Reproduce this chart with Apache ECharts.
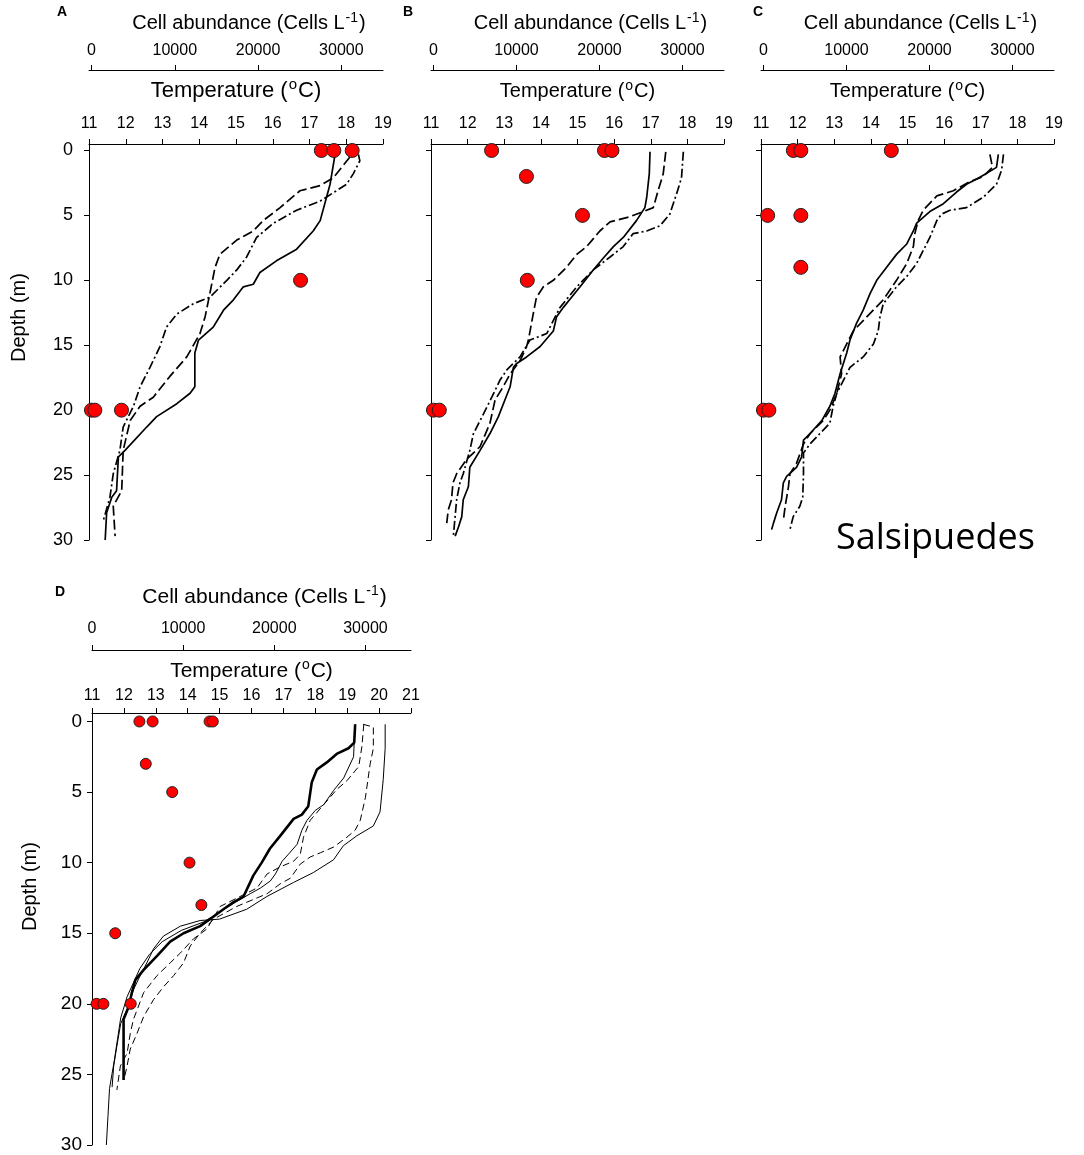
<!DOCTYPE html>
<html>
<head>
<meta charset="utf-8">
<script src="https://cdn.jsdelivr.net/npm/echarts@6/dist/echarts.min.js"></script>
<style>
  html, body { margin: 0; padding: 0; background: #fff; }
  #main { width: 1084px; height: 1155px; }
</style>
</head>
<body>
<div id="main"></div>
<script>
// ---- data: temperature profiles [temp degC, depth m] ----
var A_solid = [[17.69,0.4],[17.56,2.6],[17.29,5.4],[17.1,6.2],[16.65,7.6],[16.1,8.5],[15.65,9.4],[15.47,10.3],[15.2,10.5],[14.93,11.5],[14.66,12.3],[14.38,13.6],[13.98,14.6],[13.88,15.6],[13.88,18.2],[13.75,18.7],[13.39,19.5],[12.84,20.5],[12.57,21.3],[11.98,23.1],[11.8,23.6],[11.75,26.2],[11.62,26.7],[11.48,27.9],[11.44,30]];
var A_dashed = [[18.1,0.5],[17.65,2.1],[17.29,2.7],[16.74,3.1],[16.2,4.4],[15.74,5.4],[15.47,6.2],[15.02,6.9],[14.56,8.0],[14.43,9.0],[14.29,11.0],[14.16,12.8],[14.02,14.1],[13.66,15.9],[13.2,17.4],[12.75,19.0],[12.39,19.7],[12.12,20.8],[11.93,23.1],[11.89,26.2],[11.66,27.4],[11.71,29.7]];
var A_dashdot = [[18.33,0.3],[18.37,0.8],[18.19,1.8],[18.01,2.6],[17.29,3.9],[16.65,4.6],[16.02,5.6],[15.56,6.7],[15.29,8.2],[15.02,9.2],[14.75,10.0],[14.29,11.3],[13.84,11.8],[13.39,12.6],[13.11,13.6],[12.93,15.1],[12.66,16.7],[12.39,18.2],[12.21,19.7],[11.93,21.3],[11.84,23.1],[11.66,24.9],[11.57,26.7],[11.39,28.5]];

var B_solid = [[16.98,0.1],[16.96,1.8],[16.89,3.6],[16.84,4.4],[16.61,5.4],[16.25,6.7],[15.98,7.4],[15.7,8.3],[15.43,9.2],[15.07,10.5],[14.61,12.1],[14.43,12.8],[14.34,13.9],[13.98,15.1],[13.61,15.9],[13.34,16.4],[13.25,16.7],[13.16,18.2],[13.02,19.2],[12.84,20.5],[12.61,21.8],[12.34,23.1],[12.06,24.4],[12.02,25.9],[11.88,26.9],[11.84,28.2],[11.75,29.0],[11.66,29.7]];
var B_dashed = [[17.41,0.1],[17.34,1.8],[17.2,3.1],[17.07,4.4],[16.8,4.7],[16.43,5.1],[15.89,5.5],[15.61,6.2],[15.25,7.4],[14.98,8.0],[14.7,9.0],[14.34,10.0],[14.07,10.5],[13.88,11.3],[13.79,12.6],[13.66,14.6],[13.61,15.1],[13.43,16.2],[13.16,17.2],[12.97,18.2],[12.75,19.2],[12.61,21.0],[12.34,22.8],[11.97,23.8],[11.7,24.9],[11.6,25.6],[11.56,26.9],[11.47,27.7],[11.43,28.7]];
var B_dashdot = [[17.89,0.1],[17.84,2.1],[17.71,3.3],[17.52,4.9],[17.25,5.8],[16.89,6.2],[16.52,6.4],[16.25,7.4],[15.89,8.2],[15.43,9.2],[14.98,10.5],[14.52,12.1],[14.16,14.1],[13.7,14.6],[13.43,15.9],[13.07,16.9],[12.88,17.7],[12.66,19.0],[12.43,20.3],[12.16,21.8],[12.06,23.1],[11.88,24.9],[11.79,25.6],[11.7,26.9],[11.61,29.7]];

var C_solid = [[17.48,0.3],[17.43,1.3],[17.07,1.9],[16.89,2.2],[16.61,2.6],[16.34,3.2],[15.98,4.1],[15.61,4.7],[15.25,5.6],[15.16,6.2],[14.98,7.2],[14.7,8.0],[14.43,9.0],[14.16,10.0],[13.98,11.0],[13.79,12.3],[13.61,13.3],[13.43,14.6],[13.34,15.6],[13.16,17.2],[13.02,18.7],[12.88,19.7],[12.66,20.8],[12.34,21.8],[12.16,22.3],[12.11,23.6],[11.97,24.4],[11.7,25.1],[11.61,25.6],[11.56,26.9],[11.43,27.9],[11.34,28.7],[11.29,29.2]];
var C_dashed = [[17.25,0.3],[17.32,1.3],[17.07,2.0],[16.7,2.4],[16.25,3.1],[15.8,3.5],[15.43,4.6],[15.29,5.4],[15.2,6.4],[15.16,7.4],[14.98,8.7],[14.7,10.0],[14.34,11.5],[13.79,13.1],[13.52,13.9],[13.34,14.9],[13.16,15.9],[13.2,17.2],[13.07,18.7],[12.88,20.0],[12.7,20.8],[12.34,21.8],[12.16,22.6],[11.97,24.1],[11.79,24.9],[11.75,25.9],[11.66,27.4],[11.61,28.5]];
var C_dashdot = [[17.62,0.3],[17.57,1.5],[17.43,2.6],[17.07,3.6],[16.61,4.4],[16.16,4.6],[15.93,4.9],[15.8,5.4],[15.61,6.7],[15.43,7.7],[15.25,8.7],[14.98,9.7],[14.7,10.5],[14.34,11.8],[14.25,12.8],[14.2,13.9],[14.07,14.9],[13.79,15.9],[13.43,16.7],[13.25,17.7],[13.07,18.7],[12.97,19.7],[12.88,21.0],[12.61,21.8],[12.34,22.6],[12.16,23.3],[12.16,24.9],[12.14,26.7],[12.06,27.4],[11.88,28.2],[11.79,29.2]];

var D_thick = [[19.25,0.2],[19.22,1.5],[19.04,1.9],[18.67,2.3],[18.36,2.9],[18.05,3.4],[17.89,4.3],[17.78,6.0],[17.58,6.6],[17.32,6.9],[16.9,8.1],[16.58,9.0],[16.32,10.0],[16.06,10.9],[15.75,12.4],[15.44,12.8],[15.12,13.3],[14.76,13.9],[14.39,14.5],[13.87,15.0],[13.45,15.6],[13.04,16.6],[12.62,17.6],[12.36,18.3],[12.25,19.2],[12.15,20.2],[11.99,21.1],[11.99,22.1],[11.99,25.4]];
var D_thin1 = [[19.25,0.2],[19.22,1.5],[19.2,2.5],[18.89,4.0],[18.57,4.9],[18.26,5.9],[18.0,6.3],[17.74,7.0],[17.58,7.7],[17.43,8.7],[17.16,9.4],[16.96,9.9],[16.75,10.8],[16.59,11.3],[16.28,11.8],[15.96,12.2],[15.5,12.8],[15.0,13.5],[14.5,14.2],[13.8,14.8],[13.2,15.6],[12.8,16.5],[12.5,17.5],[12.3,18.5],[12.1,19.5],[11.9,21.0],[11.8,22.5],[11.7,24.0],[11.55,26.0],[11.5,28.0],[11.45,30.0]];
var D_thin2 = [[20.19,0.2],[20.19,1.9],[20.13,4.1],[20.03,6.4],[19.82,7.4],[19.3,8.1],[18.88,8.8],[18.57,9.8],[17.94,10.7],[17.32,11.4],[16.48,12.4],[15.85,13.3],[15.0,14.0],[14.39,14.1],[13.77,14.5],[13.24,15.2],[12.93,16.1],[12.72,17.1],[12.51,18.0],[12.3,19.0],[12.1,20.4],[11.9,21.4],[11.78,23.0],[11.68,24.4],[11.63,25.9]];
var D_dashed1 = [[19.5,0.2],[19.82,0.4],[19.82,1.9],[19.72,3.0],[19.57,5.4],[19.41,7.0],[19.25,7.7],[18.99,8.2],[18.57,8.9],[18.16,9.3],[17.84,9.6],[17.53,10.1],[17.22,11.1],[16.9,11.5],[16.49,12.2],[15.54,13.1],[14.81,14.0],[14.39,15.0],[14.08,15.9],[13.87,17.1],[13.56,18.0],[13.24,18.8],[12.93,19.7],[12.62,20.9],[12.41,22.1],[12.2,23.2],[12.1,24.4],[12.0,25.4]];
var D_dashed2 = [[19.52,0.2],[19.46,1.8],[19.36,3.2],[18.99,4.2],[18.68,4.8],[17.84,7.0],[17.63,8.2],[17.53,9.4],[17.32,9.9],[16.9,10.3],[16.49,10.8],[16.17,11.8],[15.02,13.1],[14.6,14.7],[14.18,15.4],[13.77,16.4],[13.45,17.1],[13.04,18.0],[12.62,19.2],[12.3,21.1],[12.2,22.1],[12.1,23.5],[11.89,24.4],[11.78,26.1]];

// ---- data: cell abundance [cells/L, depth m] ----
var A_cells = [[27600,0],[29100,0],[31300,0],[25100,10],[0,20],[400,20],[3600,20]];
var B_cells = [[7000,0],[20600,0],[21500,0],[11200,2],[17950,5],[11300,10],[0,20],[700,20]];
var C_cells = [[3600,0],[4500,0],[15400,0],[500,5],[4500,5],[4500,9],[0,20],[650,20]];
var D_cells = [[5200,0],[6650,0],[12900,0],[13250,0],[5900,3],[8800,5],[10700,10],[12000,13],[2550,15],[500,20],[1250,20],[4250,20]];

// ---- tick values ----
var depthTicks = [0, 5, 10, 15, 20, 25, 30];
var cellTicks = [0, 10000, 20000, 30000];

var FONT = '"Liberation Sans", Arial, sans-serif';
var DASH = [10, 4];
var DASHDOT = [9, 3, 2, 3];

var panels = [
    {grid: {left: 89, top: 144, width: 294, height: 396}, dMin: -0.5, tMax: 19, cMin: -300, cOff: 74,
     tGap: 40, cGap: 34, tSize: 22, cSize: 20, tLab: 12, cLab: 11, dSize: 18, dLab: 16, depthLabels: true,
     lines: [[A_solid, 'solid', 1.7], [A_dashed, DASH, 1.7], [A_dashdot, DASHDOT, 1.7]], cells: A_cells, dot: 14},
    {grid: {left: 431, top: 144, width: 293, height: 396}, dMin: -0.5, tMax: 19, cMin: -300, cOff: 74,
     tGap: 40, cGap: 34, tSize: 20, cSize: 20, tLab: 12, cLab: 11, dSize: 18, dLab: 16, depthLabels: false,
     lines: [[B_solid, 'solid', 1.7], [B_dashed, DASH, 1.7], [B_dashdot, DASHDOT, 1.7]], cells: B_cells, dot: 14},
    {grid: {left: 761, top: 144, width: 293, height: 396}, dMin: -0.5, tMax: 19, cMin: -300, cOff: 74,
     tGap: 40, cGap: 34, tSize: 20, cSize: 20, tLab: 12, cLab: 11, dSize: 18, dLab: 16, depthLabels: false,
     lines: [[C_solid, 'solid', 1.7], [C_dashed, DASH, 1.7], [C_dashdot, DASHDOT, 1.7]], cells: C_cells, dot: 14},
    {grid: {left: 92, top: 713, width: 319, height: 432}, dMin: -0.6, tMax: 21, cMin: 0, cOff: 63,
     tGap: 29, cGap: 40, tSize: 21, cSize: 21, tLab: 9, cLab: 13, dSize: 19, dLab: 10, depthLabels: true,
     lines: [[D_thick, 'solid', 2.6], [D_thin1, 'solid', 1], [D_thin2, 'solid', 1], [D_dashed1, [7, 4], 1], [D_dashed2, [7, 4], 1]], cells: D_cells, dot: 11}
];

var grids = [], xAxes = [], yAxes = [], series = [];
var axisLine = {show: true, onZero: false, lineStyle: {color: '#000', width: 1}};
var axisTick = {show: true, inside: false, length: 5, lineStyle: {color: '#000', width: 1}};

function supRich(size) {
    return {
        a: {fontSize: size, fontFamily: FONT, color: '#000'},
        s: {fontSize: Math.round(size * 0.68), fontFamily: FONT, color: '#000', padding: [0, 1, Math.round(size * 0.55), 1]}
    };
}

panels.forEach(function (p, i) {
    grids.push(Object.assign({containLabel: false, outerBoundsMode: 'none'}, p.grid));
    // temperature axis
    xAxes.push({
        gridIndex: i, type: 'value', position: 'top', min: 11, max: p.tMax, interval: 1,
        axisLine: axisLine, axisTick: axisTick, splitLine: {show: false},
        axisLabel: {margin: p.tLab, fontSize: 16, color: '#000', fontFamily: FONT},
        name: '{a|Temperature (}{s|o}{a|C)}', nameLocation: 'middle', nameGap: p.tGap,
        nameTextStyle: {rich: supRich(p.tSize)}
    });
    // cell abundance axis
    xAxes.push({
        gridIndex: i, type: 'value', position: 'top', offset: p.cOff, min: p.cMin, max: 35000,
        axisLine: axisLine, splitLine: {show: false},
        axisTick: Object.assign({customValues: cellTicks}, axisTick),
        axisLabel: {customValues: cellTicks, margin: p.cLab, fontSize: 16, color: '#000', fontFamily: FONT,
                    formatter: function (v) { return String(v); }},
        name: '{a|Cell abundance (Cells L}{s|-1}{a|)}', nameLocation: 'middle', nameGap: p.cGap,
        nameTextStyle: {rich: supRich(p.cSize), padding: [0, 0, 0, 26]}
    });
    yAxes.push({
        gridIndex: i, type: 'value', inverse: true, min: p.dMin, max: 30,
        axisLine: axisLine, splitLine: {show: false},
        axisTick: Object.assign({customValues: depthTicks}, axisTick),
        axisLabel: {show: p.depthLabels, customValues: depthTicks, margin: p.dLab, fontSize: p.dSize, color: '#000', fontFamily: FONT}
    });
    p.lines.forEach(function (l) {
        series.push({
            type: 'line', xAxisIndex: i * 2, yAxisIndex: i, data: l[0],
            showSymbol: false, symbol: 'none', silent: true, z: 2,
            lineStyle: {color: '#000', width: l[2], type: l[1]}
        });
    });
    series.push({
        type: 'scatter', xAxisIndex: i * 2 + 1, yAxisIndex: i, data: p.cells,
        symbolSize: p.dot, z: 5,
        itemStyle: {color: '#ff0000', borderColor: '#222', borderWidth: 1, opacity: 1}
    });
});

function label(txt, x, y, size, weight) {
    return {type: 'text', left: x, top: y, style: {text: txt, fill: '#000', font: (weight || 'normal') + ' ' + size + 'px ' + FONT}};
}

var chart = echarts.init(document.getElementById('main'));
chart.setOption({
    animation: false,
    backgroundColor: '#fff',
    grid: grids,
    xAxis: xAxes,
    yAxis: yAxes,
    series: series,
    graphic: [
        label('A', 57, 5, 14, 'bold'),
        label('B', 403, 5, 14, 'bold'),
        label('C', 753, 5, 14, 'bold'),
        label('D', 55, 585, 14, 'bold'),
        {type: 'text', x: 9, y: 362, rotation: Math.PI / 2,
         style: {text: 'Depth (m)', fill: '#000', font: '20px ' + FONT}},
        {type: 'text', x: 20, y: 931, rotation: Math.PI / 2,
         style: {text: 'Depth (m)', fill: '#000', font: '20px ' + FONT}},
        {type: 'text', left: 836, top: 521, style: {text: 'Salsipuedes', fill: '#000', font: '36px "Open Sans", sans-serif'}}
    ]
});
</script>
</body>
</html>
